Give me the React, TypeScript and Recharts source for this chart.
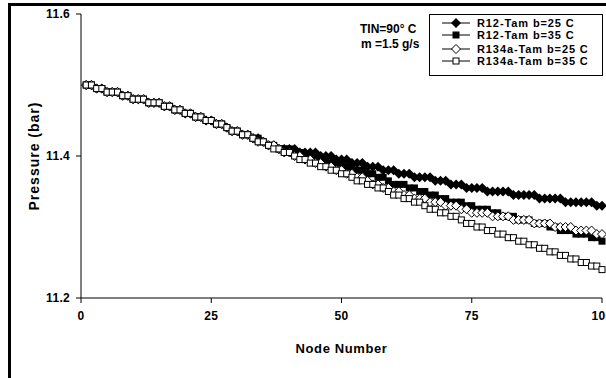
import React from 'react';
import { LineChart, Line, XAxis, YAxis, Legend } from 'recharts';

const nodes: number[] = Array.from({ length: 100 }, (_, i) => i + 1);

const r12Tamb25 = [
  11.500, 11.500, 11.495, 11.495, 11.490, 11.490, 11.490, 11.485, 11.485, 11.480,
  11.480, 11.480, 11.475, 11.475, 11.475, 11.470, 11.470, 11.465, 11.465, 11.460,
  11.460, 11.455, 11.455, 11.450, 11.450, 11.445, 11.445, 11.440, 11.435, 11.435,
  11.430, 11.430, 11.425, 11.425, 11.420, 11.415, 11.415, 11.410, 11.410, 11.410,
  11.410, 11.405, 11.405, 11.405, 11.405, 11.400, 11.400, 11.400, 11.395, 11.395,
  11.395, 11.390, 11.390, 11.390, 11.385, 11.385, 11.385, 11.380, 11.380, 11.380,
  11.375, 11.375, 11.375, 11.370, 11.370, 11.370, 11.370, 11.365, 11.365, 11.365,
  11.360, 11.360, 11.360, 11.355, 11.355, 11.355, 11.355, 11.350, 11.350, 11.350,
  11.350, 11.350, 11.345, 11.345, 11.345, 11.345, 11.345, 11.340, 11.340, 11.340,
  11.340, 11.340, 11.335, 11.335, 11.335, 11.335, 11.335, 11.335, 11.330, 11.330,
];

const r12Tamb35 = [
  11.500, 11.500, 11.495, 11.495, 11.490, 11.490, 11.490, 11.485, 11.485, 11.480,
  11.480, 11.480, 11.475, 11.475, 11.475, 11.470, 11.470, 11.465, 11.465, 11.460,
  11.460, 11.455, 11.455, 11.450, 11.450, 11.445, 11.445, 11.440, 11.435, 11.435,
  11.430, 11.430, 11.425, 11.425, 11.420, 11.415, 11.415, 11.410, 11.410, 11.410,
  11.405, 11.405, 11.400, 11.400, 11.400, 11.395, 11.395, 11.390, 11.390, 11.390,
  11.385, 11.385, 11.380, 11.380, 11.375, 11.375, 11.370, 11.370, 11.365, 11.360,
  11.360, 11.360, 11.355, 11.355, 11.350, 11.350, 11.345, 11.345, 11.340, 11.340,
  11.335, 11.335, 11.335, 11.330, 11.330, 11.325, 11.325, 11.325, 11.320, 11.320,
  11.315, 11.315, 11.315, 11.310, 11.310, 11.310, 11.305, 11.305, 11.305, 11.300,
  11.300, 11.295, 11.295, 11.295, 11.290, 11.290, 11.290, 11.285, 11.285, 11.280,
];

const r134aTamb25 = [
  11.500, 11.500, 11.495, 11.495, 11.490, 11.490, 11.490, 11.485, 11.485, 11.480,
  11.480, 11.480, 11.475, 11.475, 11.475, 11.470, 11.470, 11.465, 11.465, 11.460,
  11.460, 11.455, 11.455, 11.450, 11.450, 11.445, 11.445, 11.440, 11.435, 11.435,
  11.430, 11.430, 11.425, 11.420, 11.420, 11.415, 11.415, 11.410, 11.405, 11.405,
  11.400, 11.400, 11.395, 11.395, 11.390, 11.390, 11.385, 11.385, 11.380, 11.380,
  11.375, 11.375, 11.370, 11.370, 11.365, 11.360, 11.360, 11.355, 11.355, 11.350,
  11.350, 11.345, 11.345, 11.340, 11.340, 11.340, 11.335, 11.335, 11.335, 11.330,
  11.330, 11.330, 11.325, 11.325, 11.320, 11.320, 11.320, 11.320, 11.315, 11.315,
  11.315, 11.315, 11.310, 11.310, 11.310, 11.310, 11.305, 11.305, 11.305, 11.305,
  11.300, 11.300, 11.300, 11.300, 11.295, 11.295, 11.295, 11.295, 11.290, 11.290,
];

const r134aTamb35 = [
  11.500, 11.500, 11.495, 11.495, 11.490, 11.490, 11.490, 11.485, 11.485, 11.480,
  11.480, 11.480, 11.475, 11.475, 11.475, 11.470, 11.470, 11.465, 11.465, 11.460,
  11.460, 11.455, 11.455, 11.450, 11.450, 11.445, 11.445, 11.440, 11.435, 11.435,
  11.430, 11.430, 11.425, 11.420, 11.420, 11.415, 11.410, 11.410, 11.405, 11.405,
  11.400, 11.395, 11.395, 11.390, 11.390, 11.385, 11.385, 11.380, 11.380, 11.375,
  11.375, 11.370, 11.365, 11.365, 11.360, 11.360, 11.355, 11.355, 11.350, 11.345,
  11.345, 11.340, 11.340, 11.335, 11.335, 11.330, 11.325, 11.325, 11.320, 11.320,
  11.315, 11.315, 11.310, 11.305, 11.305, 11.300, 11.300, 11.295, 11.295, 11.290,
  11.290, 11.285, 11.285, 11.280, 11.280, 11.275, 11.275, 11.270, 11.270, 11.265,
  11.265, 11.260, 11.260, 11.255, 11.255, 11.250, 11.250, 11.245, 11.245, 11.240,
];

const seriesNames = [
  'R12-Tam b=25 C',
  'R12-Tam b=35 C',
  'R134a-Tam b=25 C',
  'R134a-Tam b=35 C',
];
const seriesKeys = ['r12_25', 'r12_35', 'r134a_25', 'r134a_35'];
const markerKinds = ['filledDiamond', 'filledSquare', 'openDiamond', 'openSquare'];

const xTicks = [0, 25, 50, 75, 100];
const yTicks = [11.2, 11.4, 11.6];

const data = nodes.map((n, i) => ({
  node: n,
  r12_25: r12Tamb25[i],
  r12_35: r12Tamb35[i],
  r134a_25: r134aTamb25[i],
  r134a_35: r134aTamb35[i],
}));

const FONT = '"Liberation Sans", Arial, Helvetica, sans-serif';

function Marker({ kind, cx, cy }: { kind: string; cx: number; cy: number }) {
  if (cx == null || cy == null) return null;
  switch (kind) {
    case 'filledDiamond': {
      const r = 5;
      return <path d={`M${cx},${cy - r}L${cx + r},${cy}L${cx},${cy + r}L${cx - r},${cy}Z`} fill="#000" />;
    }
    case 'filledSquare':
      return <rect x={cx - 3.5} y={cy - 3.5} width={7} height={7} fill="#000" />;
    case 'openDiamond': {
      const r = 4.5;
      return (
        <path
          d={`M${cx},${cy - r}L${cx + r},${cy}L${cx},${cy + r}L${cx - r},${cy}Z`}
          fill="#fff"
          stroke="#000"
          strokeWidth={1}
        />
      );
    }
    default:
      return <rect x={cx - 3} y={cy - 3} width={6} height={6} fill="#fff" stroke="#000" strokeWidth={1} />;
  }
}

const makeDot = (kind: string) => (p: any) => (
  <g key={`dot-${kind}-${p.index}`}>
    <Marker kind={kind} cx={p.cx} cy={p.cy} />
  </g>
);

const legendRowTops = [3, 15, 29, 41];

const renderLegend = (props: any) => {
  const payload = props.payload || [];
  return (
    <div
      style={{
        position: 'relative',
        width: 174,
        height: 62,
        border: '1px solid #000',
        boxSizing: 'border-box',
        background: '#fff',
      }}
    >
      {payload.map((e: any, i: number) => {
        const idx = seriesKeys.indexOf(e.dataKey);
        const kind = markerKinds[idx >= 0 ? idx : i];
        return (
          <div
            key={`leg-${i}`}
            style={{
              position: 'absolute',
              left: 12,
              top: legendRowTops[i],
              height: 10,
              display: 'flex',
              alignItems: 'center',
              whiteSpace: 'nowrap',
            }}
          >
            <svg width={28} height={10} style={{ display: 'block', overflow: 'visible' }}>
              <line x1={0} y1={5} x2={28} y2={5} stroke="#000" strokeWidth={1} />
              <Marker kind={kind} cx={14} cy={5} />
            </svg>
            <span
              style={{
                marginLeft: 7,
                fontFamily: FONT,
                fontWeight: 'bold',
                fontSize: 11,
                letterSpacing: 0.9,
                lineHeight: '10px',
                color: '#000',
              }}
            >
              {e.value}
            </span>
          </div>
        );
      })}
    </div>
  );
};

const tickStyle = { fill: '#000', fontSize: 12, fontWeight: 'bold', fontFamily: FONT, letterSpacing: 0.3 };

export default function App() {
  return (
    <div
      style={{
        position: 'absolute',
        left: 0,
        top: 0,
        width: 606,
        height: 378,
        overflow: 'hidden',
        background: '#fff',
      }}
    >
      <div
        style={{
          position: 'absolute',
          left: 8,
          top: 3,
          width: 700,
          height: 500,
          border: '3px solid #000',
          boxSizing: 'border-box',
        }}
      />
      <div style={{ position: 'absolute', left: 0, top: 0 }}>
        <LineChart width={620} height={378} data={data} margin={{ top: 14, right: 18, bottom: 0, left: 0 }}>
          <XAxis
            dataKey="node"
            type="number"
            domain={[0, 100]}
            ticks={xTicks}
            interval={0}
            height={80}
            tickSize={5}
            tickMargin={8}
            axisLine={{ stroke: '#000', strokeWidth: 1 }}
            tickLine={{ stroke: '#000', strokeWidth: 1 }}
            tick={tickStyle}
            label={(lp: any) => {
              const vb = lp.viewBox || {};
              return (
                <text
                  x={vb.x + vb.width / 2}
                  y={vb.y + 55}
                  textAnchor="middle"
                  fill="#000"
                  fontFamily={FONT}
                  fontWeight="bold"
                  fontSize={13}
                  letterSpacing={0.6}
                >
                  Node Number
                </text>
              );
            }}
          />
          <YAxis
            type="number"
            domain={[11.2, 11.6]}
            ticks={yTicks}
            interval={0}
            width={81}
            tickSize={5}
            tickMargin={6}
            tickFormatter={(v: number) => v.toFixed(1)}
            axisLine={{ stroke: '#000', strokeWidth: 1 }}
            tickLine={{ stroke: '#000', strokeWidth: 1 }}
            tick={tickStyle}
            label={(lp: any) => {
              const vb = lp.viewBox || {};
              const cx = 39;
              const cy = vb.y + vb.height / 2;
              return (
                <text
                  transform={`translate(${cx},${cy}) rotate(-90)`}
                  textAnchor="middle"
                  fill="#000"
                  fontFamily={FONT}
                  fontWeight="bold"
                  fontSize={14}
                  letterSpacing={1}
                >
                  Pressure (bar)
                </text>
              );
            }}
          />
          <Legend
            layout="vertical"
            align="center"
            verticalAlign="middle"
            wrapperStyle={{ left: 429, top: 14, width: 174, height: 62 }}
            content={renderLegend}
          />
          {seriesKeys.map((k, i) => (
            <Line
              key={k}
              dataKey={k}
              name={seriesNames[i]}
              type="linear"
              stroke="#000"
              strokeWidth={1}
              dot={makeDot(markerKinds[i])}
              activeDot={false}
              isAnimationActive={false}
              legendType="line"
            />
          ))}
        </LineChart>
      </div>
      <div
        style={{
          position: 'absolute',
          left: 360,
          top: 22,
          fontFamily: FONT,
          fontWeight: 'bold',
          fontSize: 12,
          lineHeight: '14px',
          whiteSpace: 'nowrap',
          color: '#000',
        }}
      >
        TIN=90° C
      </div>
      <div
        style={{
          position: 'absolute',
          left: 361,
          top: 37,
          fontFamily: FONT,
          fontWeight: 'bold',
          fontSize: 12,
          lineHeight: '14px',
          whiteSpace: 'nowrap',
          color: '#000',
        }}
      >
        m =1.5 g/s
      </div>
    </div>
  );
}
